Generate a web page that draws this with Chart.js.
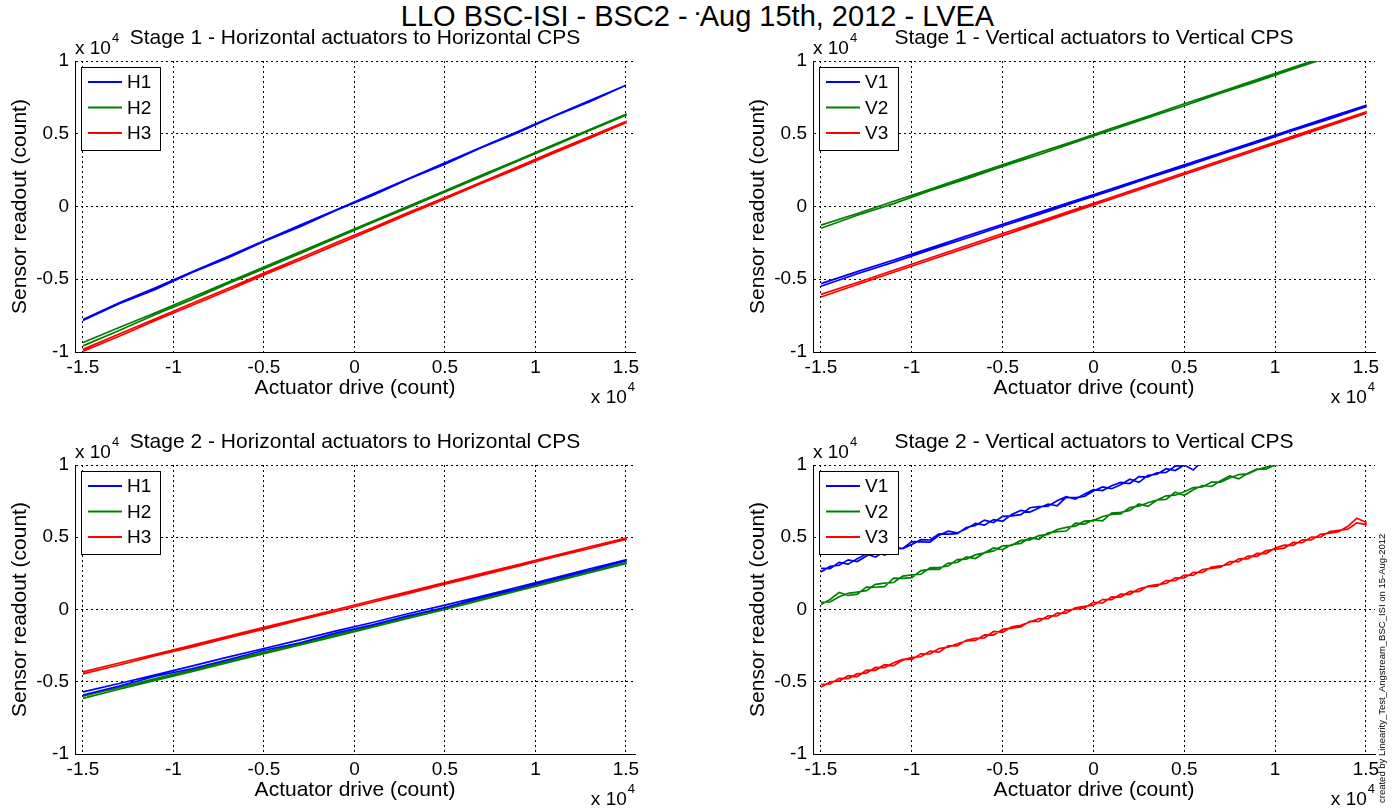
<!DOCTYPE html>
<html>
<head>
<meta charset="utf-8">
<script src="https://cdn.jsdelivr.net/npm/chart.js@4.4.1/dist/chart.umd.min.js"></script>
<style>
  body { margin: 0; background: #fff; width: 1395px; height: 811px; position: relative; overflow: hidden;
         font-family: "Liberation Sans", Arial, sans-serif; }
  .pane { position: absolute; }
  #suptitle { position: absolute; left: 0; top: 0; width: 1395px; text-align: center;
              font-size: 29px; line-height: 32px; color: #000; white-space: nowrap; }
  #suptitle span { font-size: 11px; vertical-align: top; position: relative; top: -3px; }
  #credit { position: absolute; left: 1376px; top: 803px; transform: rotate(-90deg); transform-origin: left top;
            font-size: 9.5px; line-height: 11px; white-space: nowrap; color: #000; }
</style>
</head>
<body>
<div id="suptitle">LLO BSC-ISI - BSC2 - <span>&#9642;</span>Aug 15th, 2012 - LVEA</div>
<div class="pane" style="left:0px;top:20px"><canvas id="s1h" width="650" height="385"></canvas></div>
<div class="pane" style="left:738px;top:20px"><canvas id="s1v" width="650" height="385"></canvas></div>
<div class="pane" style="left:0px;top:424px"><canvas id="s2h" width="650" height="383"></canvas></div>
<div class="pane" style="left:738px;top:424px"><canvas id="s2v" width="650" height="383"></canvas></div>
<div id="credit">created by Linearity_Test_Angstream_BSC_ISI on 15-Aug-2012</div>

<script>
// all values in units of 1e4 counts
const xTicks = [-1.5, -1, -0.5, 0, 0.5, 1, 1.5];
const yTicks = [-1, -0.5, 0, 0.5, 1];

const driveCoarse = [-1.5, -1.3, -1.1, -0.9, -0.7, -0.5, -0.3, -0.1, 0.1, 0.3, 0.5, 0.7, 0.9, 1.1, 1.3, 1.5];
const driveFine = [-1.5, -1.45, -1.4, -1.35, -1.3, -1.25, -1.2, -1.15, -1.1, -1.05, -1.0, -0.95, -0.9, -0.85, -0.8,
                   -0.75, -0.7, -0.65, -0.6, -0.55, -0.5, -0.45, -0.4, -0.35, -0.3, -0.25, -0.2, -0.15, -0.1, -0.05, 0,
                   0.05, 0.1, 0.15, 0.2, 0.25, 0.3, 0.35, 0.4, 0.45, 0.5, 0.55, 0.6, 0.65, 0.7, 0.75,
                   0.8, 0.85, 0.9, 0.95, 1.0, 1.05, 1.1, 1.15, 1.2, 1.25, 1.3, 1.35, 1.4, 1.45, 1.5];

// stage 1 horizontal
const s1H1Up   = [-0.784,-0.668,-0.570,-0.455,-0.354,-0.240,-0.139,-0.026,0.076,0.189,0.290,0.404,0.505,0.619,0.720,0.833];
const s1H1Down = [-0.776,-0.662,-0.558,-0.450,-0.343,-0.236,-0.128,-0.022,0.085,0.193,0.300,0.407,0.514,0.621,0.728,0.833];
const s1H2Up   = [-0.958,-0.852,-0.742,-0.640,-0.531,-0.428,-0.322,-0.216,-0.110,-0.006,0.100,0.205,0.311,0.416,0.522,0.628];
const s1H2Down = [-0.935,-0.832,-0.730,-0.625,-0.520,-0.416,-0.312,-0.206,-0.101,0.004,0.108,0.214,0.318,0.425,0.529,0.634];
const s1H3Up   = [-0.995,-0.892,-0.784,-0.680,-0.577,-0.470,-0.368,-0.262,-0.158,-0.052,0.052,0.158,0.260,0.366,0.470,0.576];
const s1H3Down = [-0.982,-0.876,-0.772,-0.667,-0.563,-0.458,-0.354,-0.248,-0.146,-0.040,0.062,0.167,0.271,0.377,0.481,0.584];

// stage 1 vertical
const s1V1Up   = [-0.548,-0.462,-0.382,-0.298,-0.218,-0.134,-0.054,0.030,0.110,0.194,0.274,0.358,0.438,0.522,0.602,0.686];
const s1V1Down = [-0.530,-0.448,-0.368,-0.286,-0.204,-0.122,-0.040,0.040,0.122,0.204,0.286,0.368,0.450,0.532,0.614,0.694];
const s1V2Up   = [-0.150,-0.060,0.020,0.108,0.190,0.276,0.356,0.442,0.526,0.610,0.692,0.778,0.860,0.946,1.028,1.112];
const s1V2Down = [-0.128,-0.048,0.036,0.118,0.204,0.286,0.370,0.452,0.538,0.620,0.706,0.788,0.872,0.956,1.040,1.122];
const s1V3Up   = [-0.622,-0.536,-0.452,-0.368,-0.284,-0.200,-0.116,-0.032,0.052,0.136,0.220,0.304,0.388,0.472,0.556,0.640];
const s1V3Down = [-0.604,-0.522,-0.438,-0.354,-0.270,-0.186,-0.104,-0.020,0.064,0.148,0.232,0.316,0.400,0.484,0.566,0.650];

// stage 2 horizontal
const s2H1Up   = [-0.592,-0.530,-0.462,-0.410,-0.348,-0.282,-0.230,-0.162,-0.106,-0.042,0.014,0.082,0.142,0.208,0.270,0.336];
const s2H1Down = [-0.570,-0.512,-0.452,-0.392,-0.330,-0.270,-0.210,-0.148,-0.090,-0.028,0.030,0.092,0.154,0.218,0.282,0.344];
const s2H2Up   = [-0.615,-0.552,-0.490,-0.430,-0.368,-0.306,-0.245,-0.184,-0.122,-0.060,0.000,0.064,0.128,0.190,0.254,0.318];
const s2H2Down = [-0.600,-0.540,-0.478,-0.418,-0.356,-0.295,-0.234,-0.172,-0.112,-0.050,0.010,0.072,0.134,0.198,0.260,0.324];
const s2H3Up   = [-0.446,-0.384,-0.320,-0.260,-0.196,-0.136,-0.072,-0.012,0.050,0.112,0.176,0.236,0.298,0.362,0.422,0.486];
const s2H3Down = [-0.432,-0.370,-0.310,-0.248,-0.186,-0.124,-0.062,0.000,0.062,0.124,0.186,0.248,0.310,0.372,0.434,0.494];

// stage 2 vertical (noisier, finer steps)
const s2V1Up   = [0.260,0.298,0.306,0.344,0.332,0.370,0.408,0.376,0.424,0.422,0.470,0.468,0.466,0.514,0.542,0.530,
                  0.558,0.596,0.584,0.622,0.610,0.658,0.686,0.674,0.702,0.730,0.718,0.776,0.774,0.782,0.820,
                  0.848,0.836,0.864,0.902,0.880,0.928,0.936,0.974,0.962,1.000,1.038,1.006,1.054,1.062,
                  1.080,1.098,1.116,1.134,1.152,1.170,1.188,1.206,1.224,1.242,1.260,1.278,1.296,1.314,1.332,1.350];
const s2V1Down = [0.285,0.283,0.326,0.314,0.352,0.385,0.363,0.401,0.434,0.422,0.450,0.483,0.481,0.524,0.522,0.525,
                  0.568,0.581,0.619,0.602,0.645,0.648,0.656,0.704,0.712,0.715,0.753,0.781,0.764,0.797,0.830,
                  0.823,0.856,0.879,0.872,0.920,0.918,0.946,0.949,0.992,1.000,0.965,1.030,1.050,1.068,
                  1.086,1.104,1.122,1.140,1.158,1.176,1.194,1.212,1.230,1.248,1.266,1.284,1.302,1.320,1.338,1.352];
const s2V2Up   = [0.035,0.069,0.118,0.097,0.106,0.155,0.154,0.158,0.217,0.216,0.220,0.269,0.278,0.277,0.321,0.325,
                  0.364,0.353,0.392,0.426,0.415,0.449,0.458,0.497,0.486,0.530,0.539,0.543,0.597,0.591,0.620,
                  0.614,0.668,0.672,0.686,0.730,0.714,0.758,0.762,0.811,0.790,0.829,0.858,0.852,0.891,0.925,
                  0.904,0.943,0.972,0.971,1.000,1.009,1.028,1.047,1.066,1.085,1.104,1.123,1.142,1.161,1.180];
const s2V2Down = [0.050,0.052,0.088,0.112,0.121,0.130,0.174,0.183,0.187,0.231,0.240,0.244,0.288,0.292,0.301,0.345,
                  0.349,0.378,0.392,0.406,0.440,0.444,0.478,0.482,0.511,0.520,0.554,0.568,0.577,0.611,0.615,
                  0.644,0.658,0.662,0.706,0.715,0.739,0.758,0.787,0.791,0.815,0.844,0.848,0.882,0.881,0.910,
                  0.934,0.938,0.967,0.986,0.995,1.019,1.043,1.057,1.076,1.095,1.114,1.133,1.152,1.171,1.190];
const s2V3Up   = [-0.539,-0.500,-0.496,-0.458,-0.464,-0.420,-0.421,-0.382,-0.389,-0.350,-0.331,-0.327,-0.288,-0.295,-0.251,
                  -0.252,-0.213,-0.199,-0.196,-0.152,-0.158,-0.119,-0.110,-0.087,-0.063,-0.064,-0.025,-0.026,0.012,0.021,0.030,
                  0.069,0.068,0.106,0.105,0.144,0.158,0.162,0.200,0.199,0.238,0.237,0.276,0.284,0.293,0.332,
                  0.331,0.370,0.368,0.407,0.416,0.425,0.464,0.462,0.501,0.500,0.539,0.548,0.556,0.600,0.589];
const s2V3Down = [-0.519,-0.515,-0.476,-0.478,-0.444,-0.440,-0.401,-0.402,-0.369,-0.345,-0.346,-0.307,-0.308,-0.270,-0.261,
                  -0.237,-0.218,-0.214,-0.176,-0.177,-0.138,-0.129,-0.120,-0.082,-0.083,-0.044,-0.045,-0.006,0.002,0.011,0.050,
                  0.044,0.088,0.086,0.125,0.124,0.163,0.172,0.180,0.219,0.218,0.257,0.256,0.294,0.303,0.312,
                  0.351,0.350,0.388,0.387,0.426,0.445,0.444,0.482,0.481,0.520,0.529,0.538,0.576,0.631,0.604];

const BLUE = "#0000ff", GREEN = "#008000", RED = "#ff0000";
const FONT = '"Liberation Sans", Arial, sans-serif';

// drive goes up then comes back down
function loop(drive, up, down) {
  const pts = drive.map((x, i) => ({ x: x, y: up[i] }));
  for (let i = drive.length - 1; i >= 0; i--) pts.push({ x: drive[i], y: down[i] });
  return pts;
}

// matlab style legend box in the upper left corner of the axes
const boxLegend = {
  id: "boxLegend",
  afterDatasetsDraw(chart) {
    const { ctx, chartArea: a } = chart;
    const x0 = a.left + 6, y0 = a.top + 6, w = 79, h = 83;
    ctx.save();
    ctx.fillStyle = "#fff";
    ctx.fillRect(x0, y0, w, h);
    ctx.strokeStyle = "#000";
    ctx.lineWidth = 1;
    ctx.strokeRect(x0 + 0.5, y0 + 0.5, w, h);
    ctx.font = "19px " + FONT;
    ctx.textBaseline = "middle";
    chart.data.datasets.forEach((ds, i) => {
      const yy = y0 + 15 + i * 25.5;
      ctx.strokeStyle = ds.borderColor;
      ctx.lineWidth = 2;
      ctx.beginPath();
      ctx.moveTo(x0 + 7, yy);
      ctx.lineTo(x0 + 41, yy);
      ctx.stroke();
      ctx.fillStyle = "#000";
      ctx.fillText(ds.label, x0 + 46, yy + 1);
    });
    ctx.restore();
  }
};

// the "x 10^4" multipliers on both axes
const exponentLabels = {
  id: "exponentLabels",
  afterDraw(chart) {
    const { ctx, chartArea: a } = chart;
    ctx.save();
    ctx.fillStyle = "#000";
    ctx.textBaseline = "alphabetic";
    ctx.textAlign = "left";
    ctx.font = "19px " + FONT;
    const wb = ctx.measureText("x 10").width;
    ctx.fillText("x 10", a.left, a.top - 7);
    ctx.font = "13px " + FONT;
    const w4 = ctx.measureText("4").width;
    ctx.fillText("4", a.left + wb + 1, a.top - 19);
    ctx.font = "19px " + FONT;
    const xs = a.right - w4 - 1 - wb;
    ctx.fillText("x 10", xs, a.bottom + 51);
    ctx.font = "13px " + FONT;
    ctx.fillText("4", xs + wb + 1, a.bottom + 39);
    ctx.restore();
  }
};

function makePanel(id, title, drive, series, padRight) {
  new Chart(document.getElementById(id), {
    type: "line",
    data: {
      datasets: series.map((s) => ({
        label: s.label,
        data: loop(drive, s.up, s.down),
        borderColor: s.color,
        backgroundColor: s.color,
        borderWidth: 1.7,
        pointRadius: 0,
        tension: 0,
        fill: false
      }))
    },
    options: {
      responsive: false,
      animation: false,
      events: [],
      layout: { padding: { left: 0, right: padRight, top: 0, bottom: 0 } },
      plugins: {
        legend: { display: false },
        tooltip: { enabled: false },
        title: {
          display: true, text: title, fullSize: false, color: "#000",
          font: { family: FONT, size: 21, weight: "normal", lineHeight: 1.2 },
          padding: { top: 5.4, bottom: 10.4 }
        }
      },
      scales: {
        x: {
          type: "linear", min: -1.544, max: 1.55,
          afterBuildTicks: (s) => { s.ticks = xTicks.map((v) => ({ value: v })); },
          afterFit: (s) => { s.height = 53; },
          ticks: { color: "#000", padding: 4, maxRotation: 0, font: { family: FONT, size: 19 }, callback: (v) => String(v) },
          grid: { color: "#000", lineWidth: 1, drawTicks: false },
          border: { display: true, color: "#000", width: 1, dash: [2, 3] },
          title: { display: true, text: "Actuator drive (count)", color: "#000",
                   font: { family: FONT, size: 21, lineHeight: 1.2 }, padding: { top: 0, bottom: 4.4 } }
        },
        y: {
          type: "linear", min: -1, max: 1,
          afterBuildTicks: (s) => { s.ticks = yTicks.map((v) => ({ value: v })); },
          afterFit: (s) => { s.width = 75; },
          ticks: { color: "#000", padding: 6, font: { family: FONT, size: 19 }, callback: (v) => String(v) },
          grid: { color: "#000", lineWidth: 1, drawTicks: false },
          border: { display: true, color: "#000", width: 1, dash: [2, 3] },
          title: { display: true, text: "Sensor readout (count)", color: "#000",
                   font: { family: FONT, size: 21, lineHeight: 1.2 }, padding: { top: 7.4, bottom: 0 } }
        }
      }
    },
    plugins: [boxLegend, exponentLabels]
  });
}

makePanel("s1h", "Stage 1 - Horizontal actuators to Horizontal CPS", driveCoarse, [
  { label: "H1", color: BLUE, up: s1H1Up, down: s1H1Down },
  { label: "H2", color: GREEN, up: s1H2Up, down: s1H2Down },
  { label: "H3", color: RED, up: s1H3Up, down: s1H3Down }
], 15);

makePanel("s1v", "Stage 1 - Vertical actuators to Vertical CPS", driveCoarse, [
  { label: "V1", color: BLUE, up: s1V1Up, down: s1V1Down },
  { label: "V2", color: GREEN, up: s1V2Up, down: s1V2Down },
  { label: "V3", color: RED, up: s1V3Up, down: s1V3Down }
], 13);

makePanel("s2h", "Stage 2 - Horizontal actuators to Horizontal CPS", driveCoarse, [
  { label: "H1", color: BLUE, up: s2H1Up, down: s2H1Down },
  { label: "H2", color: GREEN, up: s2H2Up, down: s2H2Down },
  { label: "H3", color: RED, up: s2H3Up, down: s2H3Down }
], 15);

makePanel("s2v", "Stage 2 - Vertical actuators to Vertical CPS", driveFine, [
  { label: "V1", color: BLUE, up: s2V1Up, down: s2V1Down },
  { label: "V2", color: GREEN, up: s2V2Up, down: s2V2Down },
  { label: "V3", color: RED, up: s2V3Up, down: s2V3Down }
], 13);
</script>
</body>
</html>
